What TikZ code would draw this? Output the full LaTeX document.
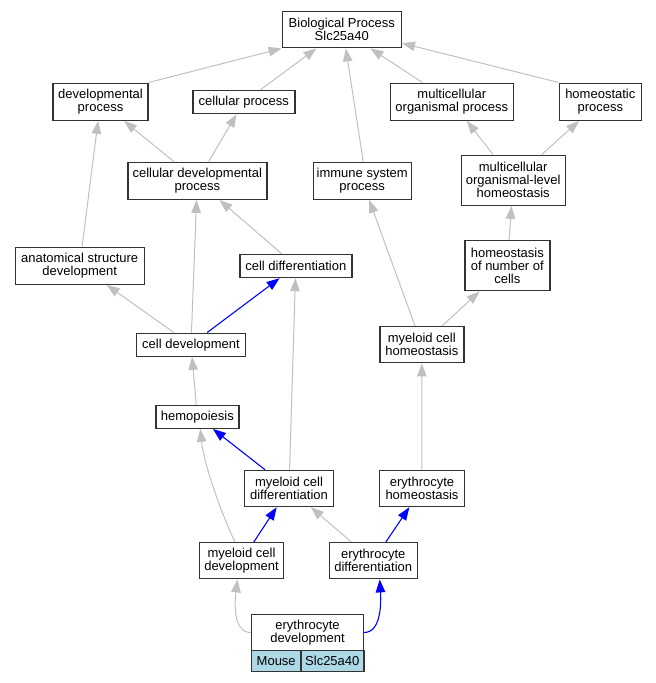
\documentclass[tikz,border=0pt]{standalone}
\usepackage{fontspec}
\setmainfont{Liberation Sans}
\usetikzlibrary{arrows.meta,calc}
\definecolor{edgegray}{HTML}{C0C0C0}
\definecolor{cellblue}{HTML}{ADD8E6}
\tikzset{
  term/.style={draw=black!80, line width=1.4pt, fill=white, align=center,
    font=\fontsize{13}{13}\selectfont, inner xsep=2pt, inner ysep=1pt},
  sz/.style 2 args={minimum width=#1pt, minimum height=#2pt},
  cell/.style={term, fill=cellblue},
  isa/.style={draw=edgegray, line width=1pt, -{Triangle[length=13pt,width=9.5pt]}},
  blueedge/.style={draw=blue, line width=1.1pt, -{Triangle[length=13pt,width=9.5pt]}}
}
\begin{document}
\begin{tikzpicture}[x=1pt,y=-1pt]
\useasboundingbox (0,0) rectangle (656,683);
% nodes
\node[term, sz={119}{36}] (bp) at (341.8,29.7) {Biological Process\\Slc25a40};
\node[term, sz={95}{37}] (dp) at (100.5,101.7) {developmental\\process};
\node[term, sz={102}{23}] (cp) at (243.8,102) {cellular process};
\node[term, sz={123}{37}] (mop) at (451.8,101.7) {multicellular\\organismal process};
\node[term, sz={82}{37}] (hp) at (600.3,101.7) {homeostatic\\process};
\node[term, sz={139}{37}] (cdp) at (197.3,180.7) {cellular developmental\\process};
\node[term, sz={98}{37}] (isp) at (362.2,180.7) {immune system\\process};
\node[term, sz={104}{50}] (molh) at (513.2,180.2) {multicellular\\organismal-level\\homeostasis};
\node[term, sz={129}{37}] (asd) at (79.7,265.7) {anatomical structure\\development};
\node[term, sz={112}{23}] (cdiff) at (295.8,266) {cell differentiation};
\node[term, sz={85}{50}] (hnc) at (507.3,265.7) {homeostasis\\of number of\\cells};
\node[term, sz={109}{23}] (cdev) at (191,344.7) {cell development};
\node[term, sz={84}{36}] (mch) at (421.8,344.7) {myeloid cell\\homeostasis};
\node[term, sz={83}{23}] (hemo) at (197.3,416.7) {hemopoiesis};
\node[term, sz={89}{36}] (mcdiff) at (289,488.5) {myeloid cell\\differentiation};
\node[term, sz={85}{36}] (eh) at (422,488.5) {erythrocyte\\homeostasis};
\node[term, sz={84}{36}] (mcdev) at (241.5,560.7) {myeloid cell\\development};
\node[term, sz={88}{36}] (ediff) at (373.2,560.7) {erythrocyte\\differentiation};
\node[term, sz={112}{36}] (ed) at (307.5,632.5) {erythrocyte\\development};
\node[cell, sz={50}{21}] (mouse) at (276.2,661) {Mouse};
\node[cell, sz={63}{21}] (slc) at (332.3,661) {Slc25a40};
% edges
\draw[isa] (dp.north east) -- (bp.south west);
\draw[isa] (cp) -- (bp);
\draw[isa] ($(isp.north)+(1,0)$) -- ($(bp.south)+(4,0)$);
\draw[isa] (mop) -- (bp);
\draw[isa] (hp.north west) -- ($(bp.east)+(0,13.5)$);
\draw[isa] (cdp) -- (dp);
\draw[isa] (cdp) -- (cp);
\draw[isa] (asd) -- (dp);
\draw[isa] (molh) -- (mop);
\draw[isa] (molh) -- (hp);
\draw[isa] (hnc) -- (molh);
\draw[isa] (cdev) -- (cdp);
\draw[isa] (cdiff) -- (cdp);
\draw[isa] (cdev) -- (asd);
\draw[blueedge] (cdev) -- (cdiff);
\draw[isa] (mch) -- (isp);
\draw[isa] (mch) -- (hnc);
\draw[isa] (hemo) -- (cdev);
\draw[blueedge] (mcdiff) -- (hemo);
\draw[isa] (mcdiff) -- (cdiff);
\draw[isa] ($(mcdev.north)+(-6.5,0)$) .. controls (222,515) and (204,465) .. ($(hemo.south)+(3,0)$);
\draw[isa] (eh) -- (mch);
\draw[isa] (ediff) -- (mcdiff);
\draw[blueedge] (ediff) -- (eh);
\draw[blueedge] (mcdev) -- (mcdiff);
\draw[isa] (ed.west) .. controls (232,632.5) and (235,600) .. ($(mcdev.south)+(-4,0)$);
\draw[blueedge] (ed.east) .. controls (382,632.5) and (381,600) .. ($(ediff.south)+(6.5,0)$);
\end{tikzpicture}
\end{document}
